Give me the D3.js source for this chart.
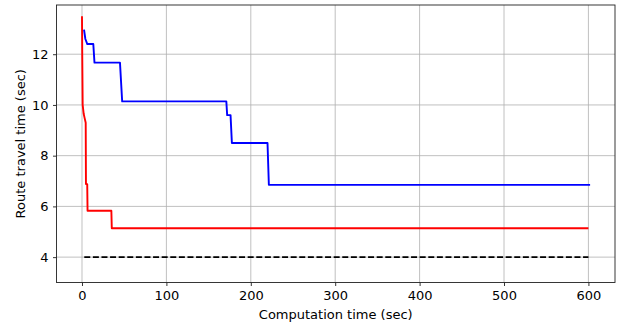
<!DOCTYPE html>
<html>
<head>
<meta charset="utf-8">
<script src="https://cdn.jsdelivr.net/npm/d3@7"></script>
<style>
  body { margin: 0; background: #fff; }
  svg { display: block; font-family: "DejaVu Sans", sans-serif; }
</style>
</head>
<body>
<svg id="chart"></svg>
<script>
// red run: [computation time, route travel time]
const redRun = [
  [0, 13.5], [0.3, 12.0], [0.8, 10.0], [2, 9.65], [3, 9.5], [4.4, 9.3],
  [4.7, 6.88], [6.2, 6.88], [6.6, 5.83], [34.8, 5.83], [35.3, 5.14], [600, 5.14]
];
// blue run
const blueRun = [
  [2.4, 12.97], [4, 12.6], [6.3, 12.4], [13.4, 12.4], [14.8, 11.67], [45, 11.67],
  [47.6, 10.14], [171, 10.14], [172, 9.6], [176, 9.6], [177.6, 8.5], [219.8, 8.5],
  [221.4, 6.85], [602, 6.85]
];
// lower bound (dashed)
const boundRun = [[2.7, 4.0], [600, 4.0]];

const xTicks = [0, 100, 200, 300, 400, 500, 600];
const yTicks = [4, 6, 8, 10, 12];

const W = 623, H = 329;
const margin = { top: 5, right: 8, bottom: 46.5, left: 56.5 };
const width = W - margin.left - margin.right;
const height = H - margin.top - margin.bottom;

const svg = d3.select("#chart").attr("width", W).attr("height", H);
const g = svg.append("g").attr("transform", `translate(${margin.left},${margin.top})`);

const x = d3.scaleLinear().domain([-30.2, 631.5]).range([0, width]);
const y = d3.scaleLinear().domain([3.0, 13.94]).range([height, 0]);

// grid
g.append("g").selectAll("line").data(xTicks).enter().append("line")
  .attr("x1", d => x(d)).attr("x2", d => x(d))
  .attr("y1", 0).attr("y2", height)
  .attr("stroke", "#b0b0b0").attr("stroke-width", 0.8);
g.append("g").selectAll("line").data(yTicks).enter().append("line")
  .attr("x1", 0).attr("x2", width)
  .attr("y1", d => y(d)).attr("y2", d => y(d))
  .attr("stroke", "#b0b0b0").attr("stroke-width", 0.8);

const line = d3.line().x(d => x(d[0])).y(d => y(d[1]));

g.append("path").datum(boundRun).attr("d", line)
  .attr("fill", "none").attr("stroke", "black").attr("stroke-width", 1.8)
  .attr("stroke-dasharray", "6,2.6");
g.append("path").datum(blueRun).attr("d", line)
  .attr("fill", "none").attr("stroke", "blue").attr("stroke-width", 1.9)
  .attr("stroke-linejoin", "round");
g.append("path").datum(redRun).attr("d", line)
  .attr("fill", "none").attr("stroke", "red").attr("stroke-width", 1.9)
  .attr("stroke-linejoin", "round");

// axes
const xAxis = g.append("g").attr("transform", `translate(0,${height})`)
  .call(d3.axisBottom(x).tickValues(xTicks).tickSize(3.5).tickPadding(4.5));
const yAxis = g.append("g")
  .call(d3.axisLeft(y).tickValues(yTicks).tickSize(3.5).tickPadding(4.5));
[xAxis, yAxis].forEach(a => {
  a.select(".domain").remove();
  a.selectAll("line").attr("stroke", "black").attr("stroke-width", 0.8);
  a.selectAll("text").attr("font-size", "13px").attr("fill", "black")
    .attr("font-family", "DejaVu Sans, sans-serif");
});

// frame
g.append("rect").attr("width", width).attr("height", height)
  .attr("fill", "none").attr("stroke", "#222").attr("stroke-width", 0.9);

// labels
g.append("text")
  .attr("x", width / 2).attr("y", height + 36)
  .style("text-anchor", "middle").style("font-size", "13px")
  .text("Computation time (sec)");
g.append("text")
  .attr("transform", "rotate(-90)")
  .attr("x", -height / 2).attr("y", -margin.left + 25)
  .style("text-anchor", "middle").style("font-size", "13px")
  .text("Route travel time (sec)");
</script>
</body>
</html>
